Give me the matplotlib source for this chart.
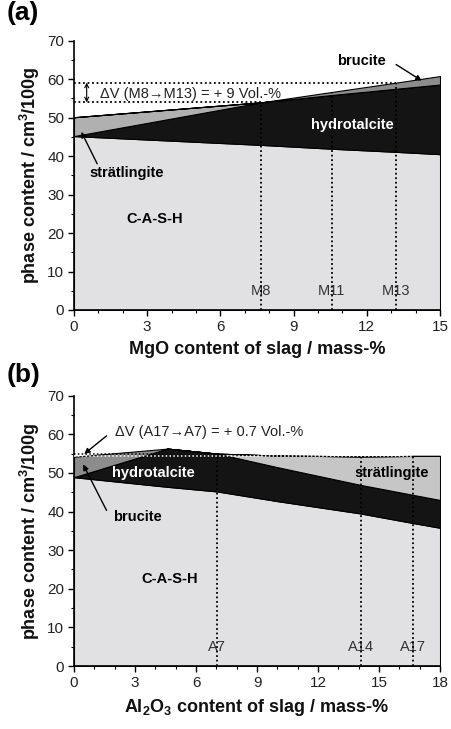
import numpy as np
import matplotlib
matplotlib.use("Agg")
import matplotlib.pyplot as plt
from matplotlib.ticker import MultipleLocator

plt.rcParams['font.family'] = ['Liberation Sans', 'DejaVu Sans']
plt.rcParams['mathtext.fontset'] = 'custom'
plt.rcParams['mathtext.rm'] = 'Liberation Sans'
plt.rcParams['mathtext.bf'] = 'Liberation Sans:bold'

# ---- panel (a): MgO series ----
x_a = [0, 7.7, 10.6, 13.2, 15]
cash_a = [45.2, 42.9, 41.9, 41.1, 40.5]
hydro_a = [0.0, 11.1, 14.0, 16.4, 18.1]
strat_a = [4.9, 0.0, 0.0, 0.0, 0.0]
bruc_a = [0.0, 0.0, 0.8, 1.6, 2.2]
samples_a = ["M8", "M11", "M13"]
samples_a_x = [7.65, 10.57, 13.19]

# ---- panel (b): Al2O3 series ----
x_b = [0, 4.6, 7.05, 10, 14.1, 16.7, 18]
cash_b = [48.9, 46.4, 45.2, 42.7, 39.5, 37.0, 35.8]
hydro_b = [0.0, 9.9, 9.8, 8.8, 7.4, 7.3, 7.2]
strat_b = [0.0, 0.0, 0.0, 3.0, 7.4, 10.1, 11.4]
bruc_b = [5.3, 0.0, 0.0, 0.0, 0.0, 0.0, 0.0]
samples_b = ["A7", "A14", "A17"]
samples_b_x = [7.05, 14.1, 16.69]

c_cash = '#e1e1e3'
c_hydro = '#141414'
c_strat_a = '#b0b0b0'
c_strat_b = '#c6c6c6'
c_bruc = '#8c8c8c'

fig = plt.figure(figsize=(4.52, 7.29), dpi=100)
ax_a = fig.add_axes([0.1637, 0.5748, 0.8098, 0.3694])
ax_b = fig.add_axes([0.1637, 0.0864, 0.8098, 0.3708])

LBL = 10.5


def style_axis(ax, xmax, xlabel):
    ax.set_xlim(0, xmax)
    ax.set_ylim(0, 70)
    ax.xaxis.set_major_locator(MultipleLocator(3))
    ax.xaxis.set_minor_locator(MultipleLocator(1))
    ax.yaxis.set_major_locator(MultipleLocator(10))
    ax.yaxis.set_minor_locator(MultipleLocator(5))
    ax.tick_params(which='major', direction='out', length=4, width=1, labelsize=11,
                   labelcolor='#222222', pad=3)
    ax.tick_params(which='minor', direction='out', length=2.5, width=0.8)
    for s in ['top', 'right']:
        ax.spines[s].set_visible(False)
    for s in ['left', 'bottom']:
        ax.spines[s].set_linewidth(1.2)
    ax.set_xlabel(xlabel, fontsize=13, fontweight='bold', labelpad=5, color='#111111')
    ax.set_ylabel(r'phase content / cm$^{\mathbf{3}}$/100g', fontsize=13, fontweight='bold',
                  labelpad=4, color='#111111')


def draw(ax, x, cash, hydro, strat, bruc, c_strat, sx, snames):
    ax.stackplot(x, cash, hydro, strat, bruc,
                 colors=[c_cash, c_hydro, c_strat, c_bruc],
                 edgecolor='black', linewidth=0.8, zorder=2)
    total = np.array(cash) + np.array(hydro) + np.array(strat) + np.array(bruc)
    for xv, name in zip(sx, snames):
        top = np.interp(xv, x, total)
        ax.text(xv, 5, name, ha='center', va='center', fontsize=10.5, color='#333333', zorder=3)
        ax.plot([xv, xv], [0, top], ls=(0, (1, 1.5)), color='black', lw=1.3, zorder=4)
    return total


draw(ax_a, x_a, cash_a, hydro_a, strat_a, bruc_a, c_strat_a, samples_a_x, samples_a)
style_axis(ax_a, 15, 'MgO content of slag / mass-%')
tot_a = np.array(cash_a) + np.array(hydro_a) + np.array(strat_a) + np.array(bruc_a)
y8 = np.interp(samples_a_x[0], x_a, tot_a)
y13 = np.interp(samples_a_x[2], x_a, tot_a)
ax_a.plot([0, samples_a_x[0]], [y8, y8], ls=(0, (1, 1.5)), color='black', lw=1.3, zorder=4)
ax_a.plot([0, samples_a_x[2]], [y13, y13], ls=(0, (1, 1.5)), color='black', lw=1.3, zorder=4)
ax_a.annotate('', xy=(0.52, y13), xytext=(0.52, y8),
              arrowprops=dict(arrowstyle='<->', lw=0.8, color='black', mutation_scale=7, shrinkA=0, shrinkB=0))
ax_a.text(1.05, 56.2, '\u0394V (M8\u2192M13) = + 9 Vol.-%', fontsize=10.5, va='center', ha='left', color='#222222')
ax_a.text(11.4, 48.2, 'hydrotalcite', color='white', fontweight='bold', fontsize=LBL, ha='center', va='center')
ax_a.text(3.3, 23.6, 'C-A-S-H', color='black', fontweight='bold', fontsize=LBL, ha='center', va='center')
ax_a.text(11.8, 64.6, 'brucite', color='black', fontweight='bold', fontsize=LBL, ha='center', va='center')
ax_a.annotate('', xy=(14.25, 59.6), xytext=(13.2, 63.8),
              arrowprops=dict(arrowstyle='-|>', lw=1.0, color='black', mutation_scale=8, shrinkA=0, shrinkB=0))
ax_a.text(2.15, 35.6, 'str\u00e4tlingite', color='black', fontweight='bold', fontsize=LBL, ha='center', va='center')
ax_a.annotate('', xy=(0.3, 46.3), xytext=(0.95, 38.0),
              arrowprops=dict(arrowstyle='-|>', lw=1.0, color='black', mutation_scale=8, shrinkA=0, shrinkB=0))

draw(ax_b, x_b, cash_b, hydro_b, strat_b, bruc_b, c_strat_b, samples_b_x, samples_b)
style_axis(ax_b, 18, r'Al$_{\mathbf{2}}$O$_{\mathbf{3}}$ content of slag / mass-%')
tot_b = np.array(cash_b) + np.array(hydro_b) + np.array(strat_b) + np.array(bruc_b)
y7 = np.interp(samples_b_x[0], x_b, tot_b)
y17 = np.interp(samples_b_x[2], x_b, tot_b)
ax_b.plot([0, samples_b_x[0]], [y7, y7], ls=(0, (1, 1.5)), color='black', lw=1.1, zorder=4)
ax_b.plot([0, samples_b_x[2]], [y17, y17], ls=(0, (1, 1.5)), color='white', lw=1.1, zorder=4)
ax_b.text(2.0, 60.7, '\u0394V (A17\u2192A7) = + 0.7 Vol.-%', fontsize=10.5, va='center', ha='left', color='#222222')
ax_b.annotate('', xy=(0.5, 54.9), xytext=(1.6, 59.6),
              arrowprops=dict(arrowstyle='-|>', lw=1.0, color='black', mutation_scale=8, shrinkA=0, shrinkB=0))
ax_b.text(3.9, 49.9, 'hydrotalcite', color='white', fontweight='bold', fontsize=LBL, ha='center', va='center')
ax_b.text(3.1, 38.7, 'brucite', color='black', fontweight='bold', fontsize=LBL, ha='center', va='center')
ax_b.annotate('', xy=(0.45, 52.2), xytext=(1.6, 40.3),
              arrowprops=dict(arrowstyle='-|>', lw=1.0, color='black', mutation_scale=8, shrinkA=0, shrinkB=0))
ax_b.text(15.6, 49.9, 'str\u00e4tlingite', color='black', fontweight='bold', fontsize=LBL, ha='center', va='center', zorder=3)
ax_b.text(4.7, 22.5, 'C-A-S-H', color='black', fontweight='bold', fontsize=LBL, ha='center', va='center')

fig.text(0.015, 0.999, '(a)', fontsize=19, fontweight='bold', ha='left', va='top')
fig.text(0.015, 0.502, '(b)', fontsize=19, fontweight='bold', ha='left', va='top')

fig.savefig('out.png', dpi=100)
